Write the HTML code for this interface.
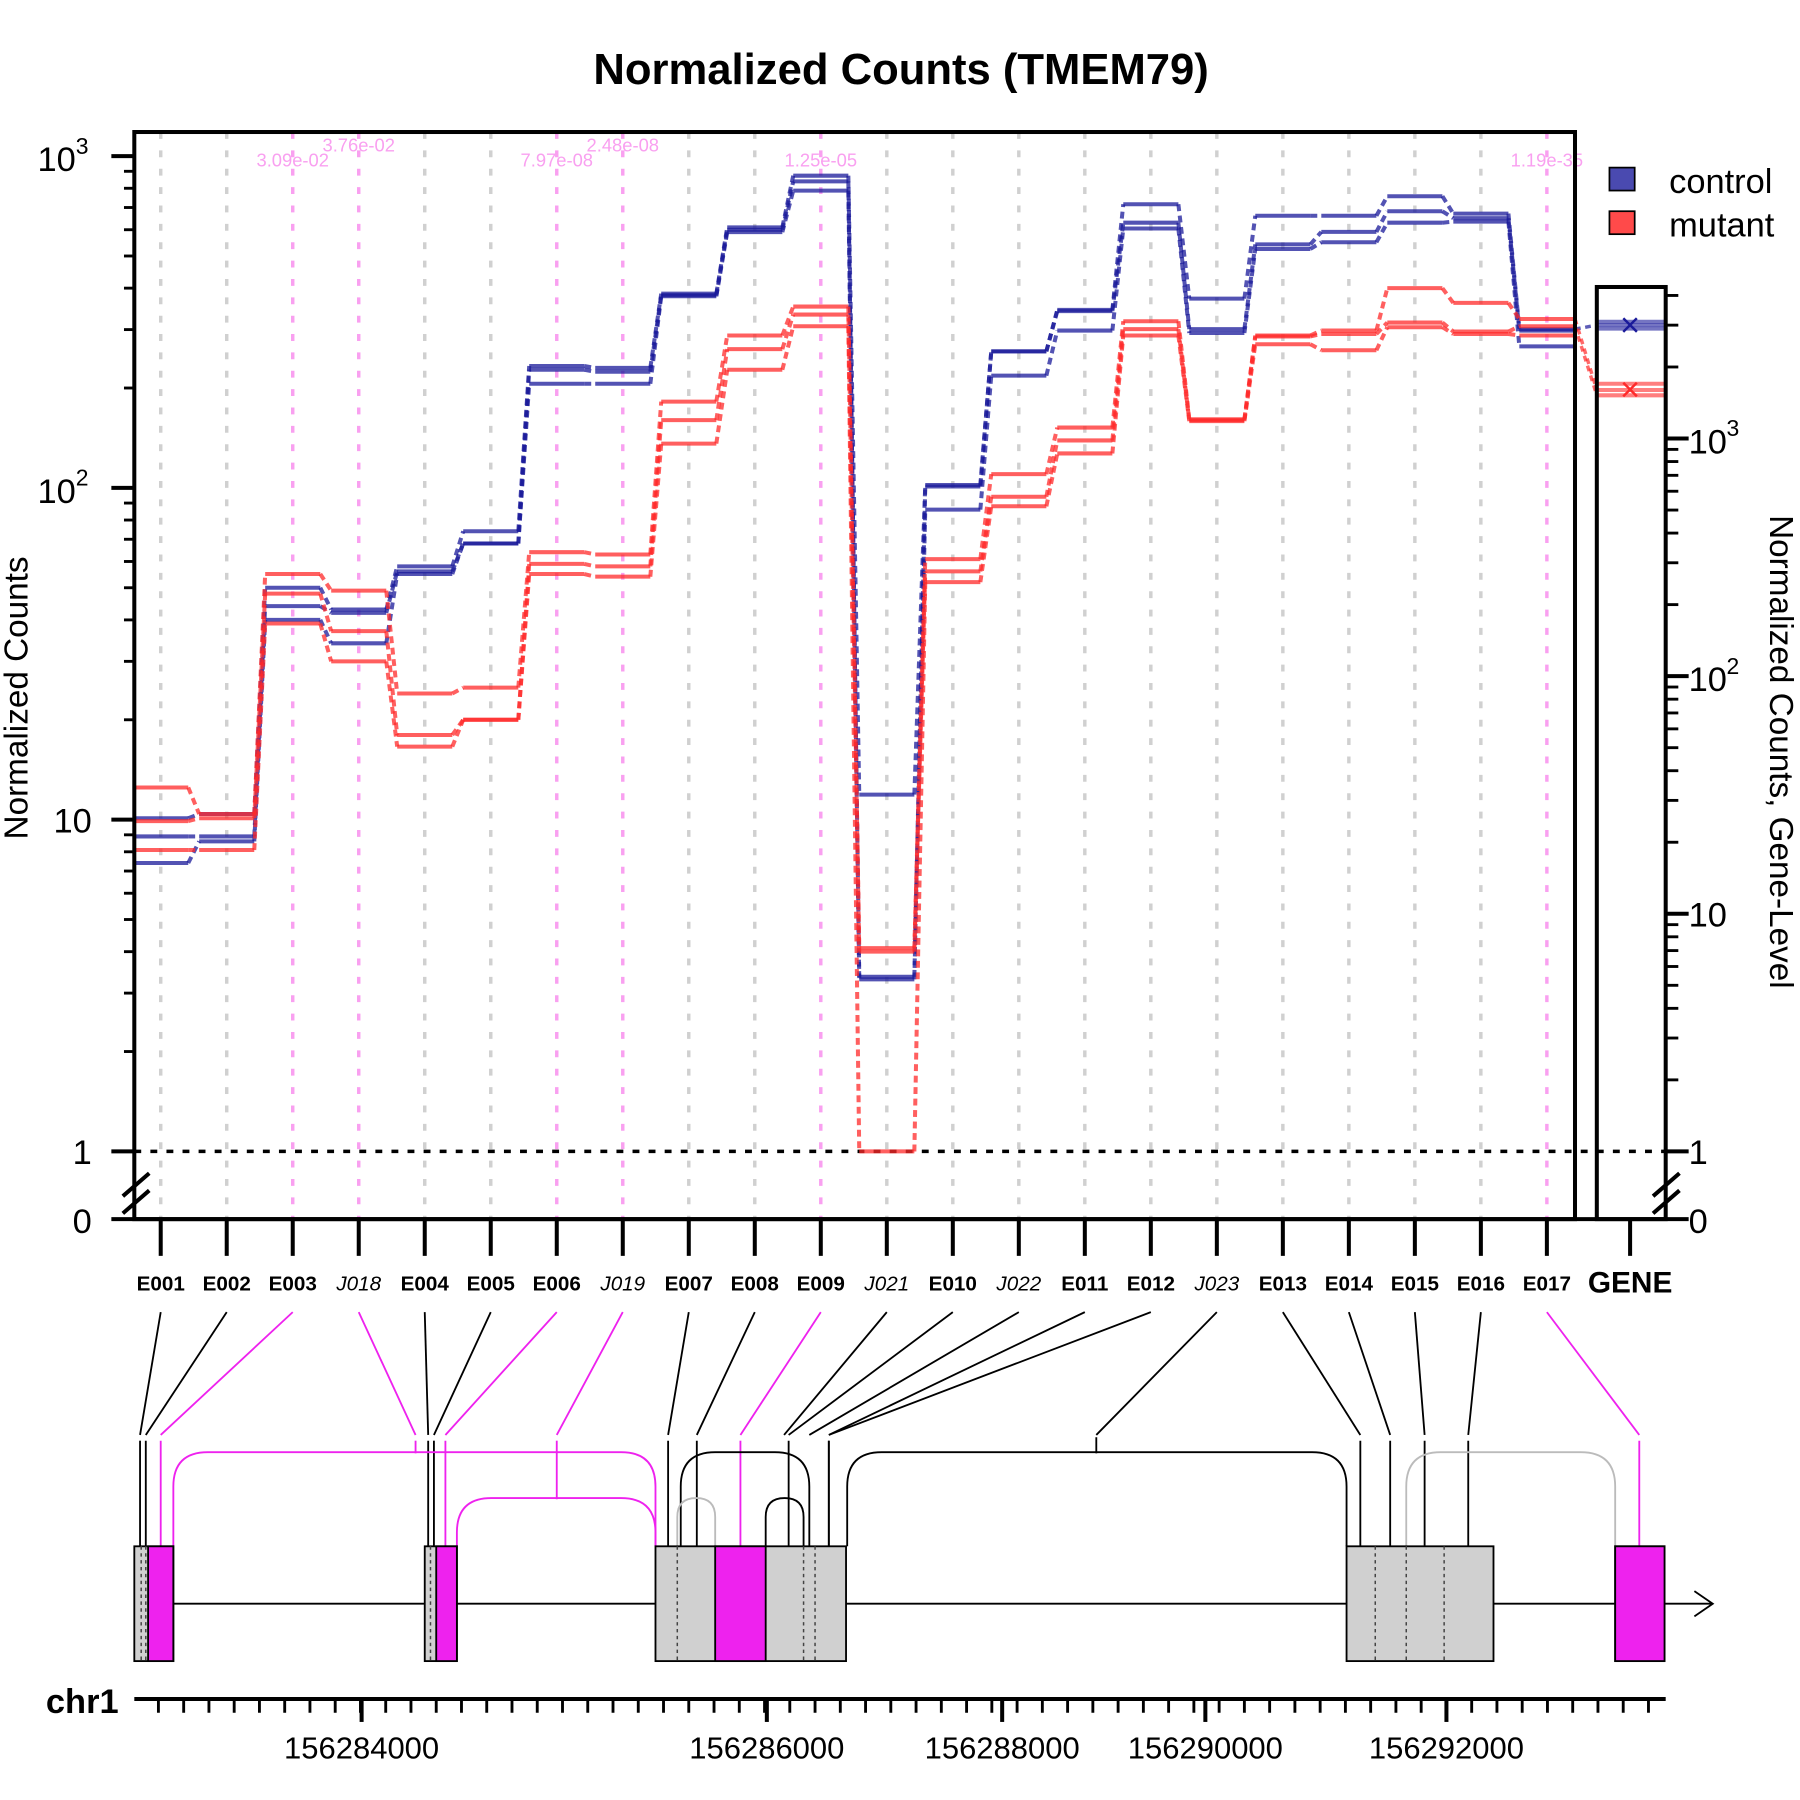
<!DOCTYPE html>
<html><head><meta charset="utf-8"><style>
html,body{margin:0;padding:0;background:#fff}
svg{display:block;font-family:"Liberation Sans",Arial,sans-serif}
</style></head><body>
<svg id="chart" width="1800" height="1800" viewBox="0 0 1568 1568" xmlns="http://www.w3.org/2000/svg">
<text x="785" y="73" text-anchor="middle" font-size="38" font-weight="bold">Normalized Counts (TMEM79)</text>
<g id="grid"></g>
<g id="series"></g>
<g id="axes"></g>
<g id="model"></g>
</svg>
<script>
const categories = ["E001","E002","E003","J018","E004","E005","E006","J019","E007","E008","E009","J021","E010","J022","E011","E012","J023","E013","E014","E015","E016","E017"];
const controlS1 = [10.1,10.4,50,43,58,74,233,230,385,610,873,11.9,102,258,344,716,372,661,661,757,671,301];
const controlS2 = [8.9,8.9,44,42,56,68,227,224,381,600,839,3.36,101,258,341,630,301,542,591,682,650,298];
const controlS3 = [7.4,8.6,40,34,55,68,206,206,378,590,787,3.3,86,218,298,605,293,525,550,630,635,267];
const mutantS1 = [12.5,10.4,55,49,24,25,64,63,182,288,352,4.1,61,110,152,318,161,288,298,400,361,323];
const mutantS2 = [9.9,10.1,48,37,18,20,59,58,160,262,333,4.0,56,94,139,301,160,286,291,315,296,307];
const mutantS3 = [8.1,8.1,39,30,16.6,20,55,54,136,227,307,1.0,52,88,127,288,159,271,260,305,291,288];
const geneControl = [3000,2900,3100];
const geneMutant = [1600,1520,1700];
const pvalues = {"E003":"3.09e-02","J018":"3.76e-02","E006":"7.97e-08","J019":"2.48e-08","E009":"1.25e-05","E017":"1.19e-35"};
const genomicTicks = ["156284000","156286000","156288000","156290000","156292000"];

const NS="http://www.w3.org/2000/svg";
function mk(p,tag,at,txt){const e=document.createElementNS(NS,tag);for(const k in at)e.setAttribute(k,at[k]);if(txt!==undefined)e.textContent=txt;p.appendChild(e);return e;}
const X0=117,X1=1372,YT=115,YB=1062;
const xc=i=>140+i*57.5;
const yL=v=>1003-289*Math.log10(v);
const yR=v=>1003-207*Math.log10(v);
const grid=document.getElementById('grid'),ser=document.getElementById('series'),ax=document.getElementById('axes'),mod=document.getElementById('model');

categories.forEach((c,i)=>{
  const pink=c in pvalues;
  const l=mk(grid,'line',{x1:xc(i),x2:xc(i),y1:YT,y2:YB,stroke:pink?'#f9a0f0':'#d0d0d0','stroke-width':3,'stroke-dasharray':'6 10'});
  
  
  if(pink){
    const j=c.startsWith('J');
    const t=mk(grid,'text',{x:xc(i),y:j?132:145,'text-anchor':'middle','font-size':16,fill:'#f9a0f0'},pvalues[c]);
    
    
  }
});
mk(grid,'line',{x1:X0,x2:1451,y1:1003,y2:1003,stroke:'#000','stroke-width':3,'stroke-dasharray':'6 8'});

function drawSeries(vals,col,name){
  const g=mk(ser,'g',{});
  
  
  vals.forEach((v,i)=>{
    const y=yL(v);
    const s=mk(g,'line',{x1:xc(i)-24,x2:xc(i)+24,y1:y,y2:y,stroke:col,'stroke-width':3.5,opacity:0.75});
    
    
    if(i<vals.length-1){
      const y2=yL(vals[i+1]);
      mk(g,'line',{x1:xc(i)+24,x2:xc(i+1)-24,y1:y,y2:y2,stroke:col,'stroke-width':3.5,'stroke-dasharray':'6 4',opacity:0.75});
    }
  });
  return g;
}
[[controlS1,'#1a1a9a','control-sample-1'],[controlS2,'#1a1a9a','control-sample-2'],[controlS3,'#1a1a9a','control-sample-3'],
 [mutantS1,'#ff2a2a','mutant-sample-1'],[mutantS2,'#ff2a2a','mutant-sample-2'],[mutantS3,'#ff2a2a','mutant-sample-3']].forEach(a=>drawSeries(a[0],a[1],a[2]));
function drawGene(vals,col,name){
  vals.forEach((v,k)=>{
    const y=yR(v);
    const s=mk(ser,'line',{x1:1391,x2:1451,y1:y,y2:y,stroke:col,'stroke-width':3.5,opacity:0.6});
    
    
  });
  const m=vals.reduce((a,b)=>a+b,0)/vals.length,y=yR(m);
  const x=mk(ser,'text',{x:1420,y:y+10,'text-anchor':'middle','font-size':30,fill:col},'×');
  
  
}
drawGene(geneControl,'#1a1a9a','gene-control');
drawGene(geneMutant,'#ff2a2a','gene-mutant');
[[controlS1,geneControl[0],'#1a1a9a'],[mutantS1,geneMutant[0],'#ff2a2a'],[mutantS2,geneMutant[1],'#ff2a2a']].forEach(a=>{
  mk(ser,'line',{x1:1372,x2:1391,y1:yL(a[0][21]),y2:yR(a[1]),stroke:a[2],'stroke-width':3,'stroke-dasharray':'5 4',opacity:0.7});
});

let b=mk(ax,'rect',{x:X0,y:YT,width:X1-X0,height:YB-YT,fill:'none',stroke:'#000','stroke-width':3.5});

b=mk(ax,'rect',{x:1391,y:250,width:60,height:812,fill:'none',stroke:'#000','stroke-width':3.5});

mk(ax,'line',{x1:97,x2:1451,y1:YB,y2:YB,stroke:'#000','stroke-width':3.5});
for(let d=0;d<=3;d++){for(let m=1;m<10;m++){const v=m*Math.pow(10,d);const y=yL(v);if(y<YT+10)continue;mk(ax,'line',{x1:m==1?97:108,x2:X0,y1:y,y2:y,stroke:'#000','stroke-width':m==1?3.5:2.5});}}
[['1',1],['10',10]].forEach(l=>{const t=mk(ax,'text',{x:80,y:yL(l[1])+11,'text-anchor':'end','font-size':30},l[0]);});
[[2,'100'],[3,'1000']].forEach(l=>{const t=mk(ax,'text',{x:66,y:yL(Math.pow(10,l[0]))+13,'text-anchor':'end','font-size':30},'10');mk(ax,'text',{x:66,y:yL(Math.pow(10,l[0]))-2,'font-size':20},String(l[0]));});
let t=mk(ax,'text',{x:80,y:YB+12,'text-anchor':'end','font-size':30},'0');
mk(ax,'path',{d:'M107 1042 L130 1022 M107 1057 L130 1037',stroke:'#000','stroke-width':3.5,fill:'none'});
for(let d=0;d<=3;d++){for(let m=1;m<10;m++){const v=m*Math.pow(10,d);const y=yR(v);if(y<250)continue;mk(ax,'line',{x1:1451,x2:m==1?1471:1462,y1:y,y2:y,stroke:'#000','stroke-width':m==1?3.5:2.5});}}
mk(ax,'line',{x1:1451,x2:1471,y1:YB,y2:YB,stroke:'#000','stroke-width':3.5});
mk(ax,'text',{x:1471,y:yR(1)+11,'font-size':30},'1');
mk(ax,'text',{x:1471,y:yR(10)+11,'font-size':30},'10');
[[2],[3]].forEach(l=>{mk(ax,'text',{x:1471,y:yR(Math.pow(10,l[0]))+13,'font-size':30},'10');mk(ax,'text',{x:1504,y:yR(Math.pow(10,l[0]))-2,'font-size':20},String(l[0]));});
mk(ax,'text',{x:1471,y:YB+12,'font-size':30},'0');
mk(ax,'path',{d:'M1440 1042 L1463 1022 M1440 1057 L1463 1037',stroke:'#000','stroke-width':3.5,fill:'none'});
t=mk(ax,'text',{x:0,y:0,'text-anchor':'middle','font-size':29,transform:'translate(24 608) rotate(-90)'},'Normalized Counts');
t=mk(ax,'text',{x:0,y:0,'text-anchor':'middle','font-size':29,transform:'translate(1542 655) rotate(90)'},'Normalized Counts, Gene-Level');
[['control','#4a4ab0',158],['mutant','#ff4a4a',196]].forEach(l=>{
  const g=mk(ax,'g',{});
  mk(g,'rect',{x:1402,y:l[2]-12,width:22,height:20,fill:l[1],stroke:'#000','stroke-width':1.5});
  mk(g,'text',{x:1454,y:l[2]+10,'font-size':30},l[0]);
});
categories.forEach((c,i)=>{
  mk(ax,'line',{x1:xc(i),x2:xc(i),y1:YB,y2:1094,stroke:'#000','stroke-width':3.5});
  const j=c.startsWith('J');
  const tt=mk(ax,'text',{x:xc(i),y:1124,'text-anchor':'middle','font-size':18,'font-weight':j?'normal':'bold','font-style':j?'italic':'normal'},c);
  
  
});
mk(ax,'line',{x1:1420,x2:1420,y1:YB,y2:1094,stroke:'#000','stroke-width':3.5});
t=mk(ax,'text',{x:1420,y:1126,'text-anchor':'middle','font-size':26,'font-weight':'bold'},'GENE');

const targets=[122,127,140,362,373,378,388,485,582,607,645,683,687,705,722,722,955,1185,1211,1241,1279,1428];
const M='#ee22ee';
categories.forEach((c,i)=>{
  const col=(c in pvalues)?M:'#000';
  mk(mod,'path',{d:`M${xc(i)} 1143 L${targets[i]} 1250`,stroke:col,'stroke-width':1.6,fill:'none'});
  if(!c.startsWith('J')) mk(mod,'line',{x1:targets[i],x2:targets[i],y1:1255,y2:1347,stroke:col,'stroke-width':1.6});
  else if(c==='J018') mk(mod,'line',{x1:362,x2:362,y1:1255,y2:1266,stroke:M,'stroke-width':1.6});
  else if(c==='J019') mk(mod,'line',{x1:485,x2:485,y1:1255,y2:1306,stroke:M,'stroke-width':1.6});
  else if(c==='J023') mk(mod,'line',{x1:955,x2:955,y1:1252,y2:1266,stroke:'#000','stroke-width':1.6});
});
function arc(x1,x2,top,col){const r=Math.min(30,(x2-x1)/2);mk(mod,'path',{d:`M${x1} 1347 L${x1} ${top+r} Q${x1} ${top} ${x1+r} ${top} L${x2-r} ${top} Q${x2} ${top} ${x2} ${top+r} L${x2} 1347`,stroke:col,'stroke-width':1.6,fill:'none'});}
arc(151,571,1265,M);arc(398,571,1305,M);arc(593,705,1265,'#000');arc(590,623,1305,'#bbb');arc(667,700,1305,'#000');arc(738,1173,1265,'#000');arc(1225,1407,1265,'#bbb');
mk(mod,'path',{d:'M151 1397 L1492 1397 M1476 1386 L1492 1397 L1476 1408',stroke:'#000','stroke-width':1.6,fill:'none'});
[[117,151],[370,398],[571,737],[1173,1301],[1407,1450]].forEach((e,k)=>{
  const r=mk(mod,'rect',{x:e[0],y:1347,width:e[1]-e[0],height:100,fill:'#d0d0d0',stroke:'#000','stroke-width':1.6});
  
});
[[129,151],[380,398],[623,667],[1407,1450]].forEach(e=>mk(mod,'rect',{x:e[0],y:1347,width:e[1]-e[0],height:100,fill:'#ee22ee',stroke:'#000','stroke-width':1.6}));
[123,127,375,590,700,710,1198,1225,1258].forEach(x=>mk(mod,'line',{x1:x,x2:x,y1:1347,y2:1447,stroke:'#444','stroke-width':1.3,'stroke-dasharray':'3 3'}));
t=mk(mod,'text',{x:40,y:1492,'font-size':30,'font-weight':'bold'},'chr1');
mk(mod,'line',{x1:117,x2:1451,y1:1480,y2:1480,stroke:'#000','stroke-width':3.5});
for(let x=138;x<1451;x+=22){mk(mod,'line',{x1:x,x2:x,y1:1480,y2:1492,stroke:'#000','stroke-width':2.5});}
const tickX=[315,668,873,1050,1260];
genomicTicks.forEach((g,k)=>{
  mk(mod,'line',{x1:tickX[k],x2:tickX[k],y1:1480,y2:1500,stroke:'#000','stroke-width':3.5});
  const tt=mk(mod,'text',{x:tickX[k],y:1532,'text-anchor':'middle','font-size':27},g);
  
  
});
</script>
</body></html>
